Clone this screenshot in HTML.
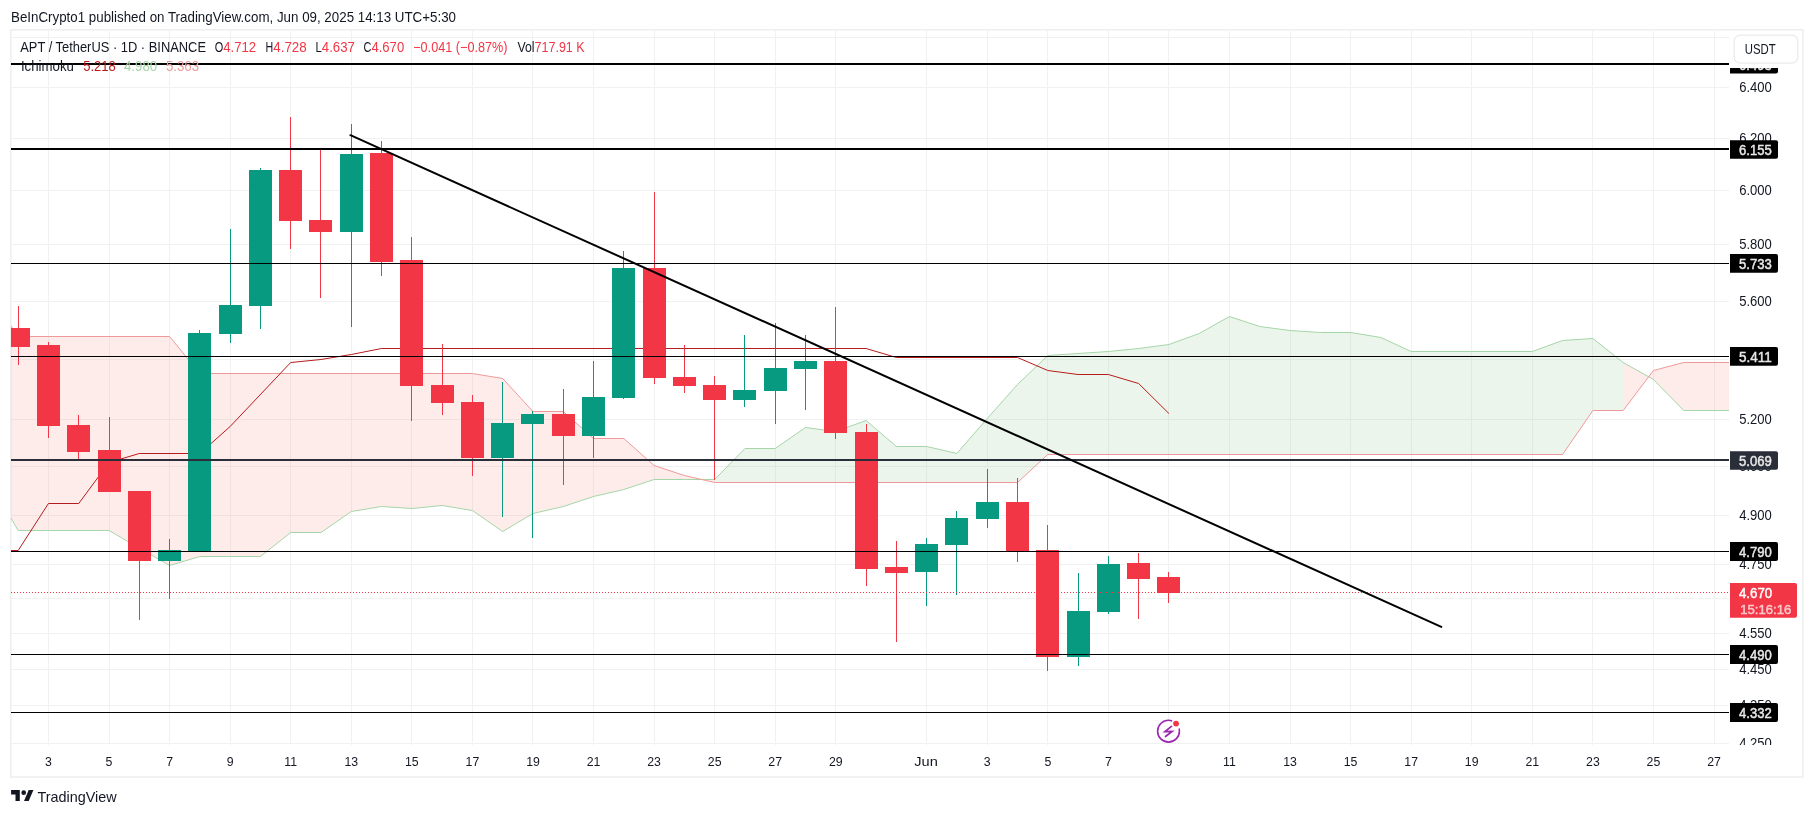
<!DOCTYPE html><html><head><meta charset="utf-8"><style>html,body{margin:0;padding:0;background:#fff;width:1814px;height:816px;overflow:hidden}svg{display:block;will-change:transform}text{font-family:"Liberation Sans",sans-serif}</style></head><body>
<svg width="1814" height="816" viewBox="0 0 1814 816">
<rect x="0" y="0" width="1814" height="816" fill="#fff"/>
<text x="11" y="22" font-size="14.3" fill="#131722" textLength="445" lengthAdjust="spacingAndGlyphs">BeInCrypto1 published on TradingView.com, Jun 09, 2025 14:13 UTC+5:30</text>
<rect x="10.75" y="29.75" width="1792.25" height="747.25" fill="none" stroke="#eeeeee" stroke-width="1.5"/>
<defs><clipPath id="plot"><rect x="11" y="31" width="1718" height="714"/></clipPath><clipPath id="axis"><rect x="1729" y="31" width="73" height="714"/></clipPath></defs>
<g clip-path="url(#plot)">
<g shape-rendering="crispEdges" stroke="#f0f2f2" stroke-width="1">
<line x1="11" y1="37.5" x2="1729" y2="37.5"/>
<line x1="11" y1="87.5" x2="1729" y2="87.5"/>
<line x1="11" y1="138.5" x2="1729" y2="138.5"/>
<line x1="11" y1="190.5" x2="1729" y2="190.5"/>
<line x1="11" y1="244.5" x2="1729" y2="244.5"/>
<line x1="11" y1="301.5" x2="1729" y2="301.5"/>
<line x1="11" y1="359.5" x2="1729" y2="359.5"/>
<line x1="11" y1="419.5" x2="1729" y2="419.5"/>
<line x1="11" y1="466.5" x2="1729" y2="466.5"/>
<line x1="11" y1="515.5" x2="1729" y2="515.5"/>
<line x1="11" y1="564.5" x2="1729" y2="564.5"/>
<line x1="11" y1="598.5" x2="1729" y2="598.5"/>
<line x1="11" y1="633.5" x2="1729" y2="633.5"/>
<line x1="11" y1="669.5" x2="1729" y2="669.5"/>
<line x1="11" y1="705.5" x2="1729" y2="705.5"/>
<line x1="11" y1="743.5" x2="1729" y2="743.5"/>
<line x1="48.5" y1="31" x2="48.5" y2="745"/>
<line x1="109.5" y1="31" x2="109.5" y2="745"/>
<line x1="169.5" y1="31" x2="169.5" y2="745"/>
<line x1="230.5" y1="31" x2="230.5" y2="745"/>
<line x1="290.5" y1="31" x2="290.5" y2="745"/>
<line x1="351.5" y1="31" x2="351.5" y2="745"/>
<line x1="411.5" y1="31" x2="411.5" y2="745"/>
<line x1="472.5" y1="31" x2="472.5" y2="745"/>
<line x1="532.5" y1="31" x2="532.5" y2="745"/>
<line x1="593.5" y1="31" x2="593.5" y2="745"/>
<line x1="654.5" y1="31" x2="654.5" y2="745"/>
<line x1="714.5" y1="31" x2="714.5" y2="745"/>
<line x1="775.5" y1="31" x2="775.5" y2="745"/>
<line x1="835.5" y1="31" x2="835.5" y2="745"/>
<line x1="926.5" y1="31" x2="926.5" y2="745"/>
<line x1="987.5" y1="31" x2="987.5" y2="745"/>
<line x1="1047.5" y1="31" x2="1047.5" y2="745"/>
<line x1="1108.5" y1="31" x2="1108.5" y2="745"/>
<line x1="1168.5" y1="31" x2="1168.5" y2="745"/>
<line x1="1229.5" y1="31" x2="1229.5" y2="745"/>
<line x1="1290.5" y1="31" x2="1290.5" y2="745"/>
<line x1="1350.5" y1="31" x2="1350.5" y2="745"/>
<line x1="1411.5" y1="31" x2="1411.5" y2="745"/>
<line x1="1471.5" y1="31" x2="1471.5" y2="745"/>
<line x1="1532.5" y1="31" x2="1532.5" y2="745"/>
<line x1="1592.5" y1="31" x2="1592.5" y2="745"/>
<line x1="1653.5" y1="31" x2="1653.5" y2="745"/>
<line x1="1714.5" y1="31" x2="1714.5" y2="745"/>
</g>
<polygon points="10.00,516.50 18.16,530.50 109.01,530.50 169.57,565.50 199.86,556.50 260.42,556.50 290.70,532.50 320.99,532.50 351.27,511.50 381.55,506.50 411.84,508.50 442.12,505.50 472.40,510.50 502.69,531.50 532.97,513.50 563.25,506.50 593.53,496.50 623.82,489.50 654.10,479.50 684.38,479.50 714.67,479.50 714.67,482.50 684.38,475.50 654.10,465.50 623.82,438.50 593.53,438.50 563.25,411.50 532.97,411.50 502.69,378.50 472.40,373.50 442.12,373.50 411.84,373.50 381.55,373.50 351.27,373.50 320.99,373.50 290.70,373.50 260.42,373.50 199.86,373.50 169.57,336.50 109.01,336.50 18.16,336.50 10.00,324.50" fill="rgba(244,67,54,0.1)"/>
<polygon points="714.67,479.50 744.95,448.50 775.23,448.50 805.52,427.50 835.80,431.50 866.08,420.50 896.36,446.50 926.65,446.50 956.93,453.50 987.21,418.50 1017.50,384.50 1047.78,355.50 1078.06,353.50 1108.35,351.50 1138.63,348.50 1168.91,344.50 1199.19,333.50 1229.48,316.50 1259.76,326.50 1290.04,330.50 1320.33,332.50 1350.61,332.50 1380.89,337.50 1411.18,351.50 1532.31,351.50 1562.59,340.50 1592.87,338.50 1623.16,362.50 1623.16,410.50 1592.87,410.50 1562.59,454.50 1532.31,454.50 1411.18,454.50 1380.89,454.50 1350.61,454.50 1320.33,454.50 1290.04,454.50 1259.76,454.50 1229.48,454.50 1199.19,454.50 1168.91,454.50 1138.63,454.50 1108.35,454.50 1078.06,454.50 1047.78,454.50 1017.50,482.50 987.21,482.50 956.93,482.50 926.65,482.50 896.36,482.50 866.08,482.50 835.80,482.50 805.52,482.50 775.23,482.50 744.95,482.50 714.67,482.50" fill="rgba(67,160,71,0.1)"/>
<polygon points="1623.16,362.50 1653.44,379.50 1683.72,410.50 1730.00,410.50 1730.00,362.50 1683.72,362.50 1653.44,370.50 1623.16,410.50" fill="rgba(244,67,54,0.1)"/>
<polyline points="10.00,516.50 18.16,530.50 109.01,530.50 169.57,565.50 199.86,556.50 260.42,556.50 290.70,532.50 320.99,532.50 351.27,511.50 381.55,506.50 411.84,508.50 442.12,505.50 472.40,510.50 502.69,531.50 532.97,513.50 563.25,506.50 593.53,496.50 623.82,489.50 654.10,479.50 684.38,479.50 714.67,479.50 744.95,448.50 775.23,448.50 805.52,427.50 835.80,431.50 866.08,420.50 896.36,446.50 926.65,446.50 956.93,453.50 987.21,418.50 1017.50,384.50 1047.78,355.50 1078.06,353.50 1108.35,351.50 1138.63,348.50 1168.91,344.50 1199.19,333.50 1229.48,316.50 1259.76,326.50 1290.04,330.50 1320.33,332.50 1350.61,332.50 1380.89,337.50 1411.18,351.50 1532.31,351.50 1562.59,340.50 1592.87,338.50 1623.16,362.50 1653.44,379.50 1683.72,410.50 1730.00,410.50" fill="none" stroke="#A5D6A7" stroke-width="1"/>
<polyline points="10.00,324.50 18.16,336.50 169.57,336.50 199.86,373.50 472.40,373.50 502.69,378.50 532.97,411.50 563.25,411.50 593.53,438.50 623.82,438.50 654.10,465.50 684.38,475.50 714.67,482.50 1017.50,482.50 1047.78,454.50 1562.59,454.50 1592.87,410.50 1623.16,410.50 1653.44,370.50 1683.72,362.50 1730.00,362.50" fill="none" stroke="#EF9A9A" stroke-width="1"/>
<polyline points="10.00,550.50 18.16,550.50 48.44,503.50 78.72,503.50 109.01,462.50 139.29,453.50 199.86,453.50 230.14,426.50 290.70,362.50 320.99,359.50 351.27,354.50 381.55,348.50 866.08,348.50 896.36,357.50 1017.50,357.50 1047.78,370.50 1078.06,374.50 1108.35,374.50 1138.63,383.50 1168.91,413.50" fill="none" stroke="#B71C1C" stroke-width="1"/>
<g shape-rendering="crispEdges">
<rect x="18.0" y="305.9" width="1" height="58.8" fill="#F23645"/>
<rect x="7.0" y="328.0" width="23" height="18.7" fill="#F23645"/>
<rect x="48.0" y="342.0" width="1" height="95.5" fill="#F23645"/>
<rect x="37.0" y="345.0" width="23" height="80.9" fill="#F23645"/>
<rect x="78.0" y="414.6" width="1" height="44.4" fill="#F23645"/>
<rect x="67.0" y="424.8" width="23" height="26.7" fill="#F23645"/>
<rect x="109.0" y="417.0" width="1" height="74.5" fill="#F23645"/>
<rect x="98.0" y="449.9" width="23" height="41.6" fill="#F23645"/>
<rect x="139.0" y="490.7" width="1" height="129.4" fill="#F23645"/>
<rect x="128.0" y="490.7" width="23" height="69.9" fill="#F23645"/>
<rect x="169.0" y="538.6" width="1" height="60.0" fill="#089981"/>
<rect x="158.0" y="549.9" width="23" height="10.7" fill="#089981"/>
<rect x="199.0" y="330.2" width="1" height="221.0" fill="#089981"/>
<rect x="188.0" y="333.3" width="23" height="217.9" fill="#089981"/>
<rect x="230.0" y="228.8" width="1" height="114.1" fill="#089981"/>
<rect x="219.0" y="305.0" width="23" height="28.6" fill="#089981"/>
<rect x="260.0" y="168.2" width="1" height="160.3" fill="#089981"/>
<rect x="249.0" y="170.0" width="23" height="135.9" fill="#089981"/>
<rect x="290.0" y="117.0" width="1" height="132.4" fill="#F23645"/>
<rect x="279.0" y="170.0" width="23" height="50.6" fill="#F23645"/>
<rect x="320.0" y="150.0" width="1" height="147.6" fill="#F23645"/>
<rect x="309.0" y="220.0" width="23" height="11.8" fill="#F23645"/>
<rect x="351.0" y="124.0" width="1" height="202.5" fill="#089981"/>
<rect x="340.0" y="154.1" width="23" height="77.7" fill="#089981"/>
<rect x="381.0" y="141.0" width="1" height="134.9" fill="#F23645"/>
<rect x="370.0" y="153.0" width="23" height="108.5" fill="#F23645"/>
<rect x="411.0" y="236.5" width="1" height="184.3" fill="#F23645"/>
<rect x="400.0" y="260.4" width="23" height="125.1" fill="#F23645"/>
<rect x="442.0" y="343.9" width="1" height="71.0" fill="#F23645"/>
<rect x="431.0" y="384.7" width="23" height="18.0" fill="#F23645"/>
<rect x="472.0" y="394.9" width="1" height="80.8" fill="#F23645"/>
<rect x="461.0" y="401.6" width="23" height="56.0" fill="#F23645"/>
<rect x="502.0" y="381.6" width="1" height="135.7" fill="#089981"/>
<rect x="491.0" y="422.7" width="23" height="34.9" fill="#089981"/>
<rect x="532.0" y="411.4" width="1" height="126.2" fill="#089981"/>
<rect x="521.0" y="413.7" width="23" height="10.2" fill="#089981"/>
<rect x="563.0" y="388.6" width="1" height="96.4" fill="#F23645"/>
<rect x="552.0" y="413.7" width="23" height="22.0" fill="#F23645"/>
<rect x="593.0" y="361.2" width="1" height="96.4" fill="#089981"/>
<rect x="582.0" y="396.9" width="23" height="38.8" fill="#089981"/>
<rect x="623.0" y="250.6" width="1" height="148.2" fill="#089981"/>
<rect x="612.0" y="267.8" width="23" height="129.8" fill="#089981"/>
<rect x="654.0" y="191.8" width="1" height="192.2" fill="#F23645"/>
<rect x="643.0" y="267.8" width="23" height="109.8" fill="#F23645"/>
<rect x="684.0" y="344.7" width="1" height="48.3" fill="#F23645"/>
<rect x="673.0" y="376.9" width="23" height="8.6" fill="#F23645"/>
<rect x="714.0" y="376.0" width="1" height="104.0" fill="#F23645"/>
<rect x="703.0" y="384.7" width="23" height="14.9" fill="#F23645"/>
<rect x="744.0" y="334.9" width="1" height="71.8" fill="#089981"/>
<rect x="733.0" y="389.8" width="23" height="9.8" fill="#089981"/>
<rect x="775.0" y="323.0" width="1" height="101.0" fill="#089981"/>
<rect x="764.0" y="367.8" width="23" height="22.8" fill="#089981"/>
<rect x="805.0" y="334.9" width="1" height="74.9" fill="#089981"/>
<rect x="794.0" y="360.8" width="23" height="7.8" fill="#089981"/>
<rect x="835.0" y="306.7" width="1" height="132.1" fill="#F23645"/>
<rect x="824.0" y="360.8" width="23" height="72.2" fill="#F23645"/>
<rect x="866.0" y="423.9" width="1" height="162.3" fill="#F23645"/>
<rect x="855.0" y="431.8" width="23" height="137.0" fill="#F23645"/>
<rect x="896.0" y="540.8" width="1" height="101.4" fill="#F23645"/>
<rect x="885.0" y="566.6" width="23" height="6.0" fill="#F23645"/>
<rect x="926.0" y="537.6" width="1" height="68.1" fill="#089981"/>
<rect x="915.0" y="544.0" width="23" height="27.7" fill="#089981"/>
<rect x="956.0" y="510.8" width="1" height="84.1" fill="#089981"/>
<rect x="945.0" y="517.8" width="23" height="27.1" fill="#089981"/>
<rect x="987.0" y="468.8" width="1" height="59.2" fill="#089981"/>
<rect x="976.0" y="501.9" width="23" height="16.9" fill="#089981"/>
<rect x="1017.0" y="478.1" width="1" height="83.7" fill="#F23645"/>
<rect x="1006.0" y="502.0" width="23" height="49.0" fill="#F23645"/>
<rect x="1047.0" y="525.0" width="1" height="145.7" fill="#F23645"/>
<rect x="1036.0" y="550.0" width="23" height="106.7" fill="#F23645"/>
<rect x="1078.0" y="573.0" width="1" height="93.1" fill="#089981"/>
<rect x="1067.0" y="610.9" width="23" height="45.8" fill="#089981"/>
<rect x="1108.0" y="556.0" width="1" height="57.8" fill="#089981"/>
<rect x="1097.0" y="564.0" width="23" height="47.7" fill="#089981"/>
<rect x="1138.0" y="553.0" width="1" height="66.0" fill="#F23645"/>
<rect x="1127.0" y="562.8" width="23" height="16.0" fill="#F23645"/>
<rect x="1168.0" y="572.0" width="1" height="31.0" fill="#F23645"/>
<rect x="1157.0" y="576.9" width="23" height="15.8" fill="#F23645"/>
</g>
<line x1="11" y1="592.5" x2="1729" y2="592.5" stroke="#F23645" stroke-width="1" stroke-dasharray="1 2" shape-rendering="crispEdges"/>
<g shape-rendering="crispEdges">
<rect x="11" y="63" width="1718" height="2" fill="#000"/>
<rect x="11" y="148" width="1718" height="2" fill="#000"/>
<rect x="11" y="263" width="1718" height="1" fill="#000"/>
<rect x="11" y="356" width="1718" height="1" fill="#000"/>
<rect x="11" y="459" width="1718" height="2" fill="#2A2E39"/>
<rect x="11" y="551" width="1718" height="1" fill="#000"/>
<rect x="11" y="654" width="1718" height="1" fill="#000"/>
<rect x="11" y="712" width="1718" height="1" fill="#000"/>
</g>
<line x1="350.4" y1="135.2" x2="1441.3" y2="626.9" stroke="#000" stroke-width="2" stroke-linecap="round"/>
<g transform="translate(1168.5,731.2)"><circle r="10.9" fill="#fff" stroke="#9C27B0" stroke-width="1.6" stroke-dasharray="54.79 10.46 68.49"/><path d="M2.9,-4.9 L-3.6,0.4 L3.6,0.2 L-3.0,5.3" fill="none" stroke="#9C27B0" stroke-width="1.7" stroke-linejoin="miter" stroke-miterlimit="8" stroke-linecap="round"/><circle cx="7.56" cy="-7.6" r="2.9" fill="#F23645"/></g>
</g>
<text x="20.25" y="51.9" font-size="14" fill="#131722" textLength="185.75" lengthAdjust="spacingAndGlyphs">APT / TetherUS · 1D · BINANCE</text>
<text x="214.7" y="51.9" font-size="14" fill="#131722" textLength="8.5" lengthAdjust="spacingAndGlyphs">O</text>
<text x="223.2" y="51.9" font-size="14" fill="#F23645" textLength="33.0" lengthAdjust="spacingAndGlyphs">4.712</text>
<text x="265.6" y="51.9" font-size="14" fill="#131722" textLength="7.7" lengthAdjust="spacingAndGlyphs">H</text>
<text x="273.3" y="51.9" font-size="14" fill="#F23645" textLength="33.4" lengthAdjust="spacingAndGlyphs">4.728</text>
<text x="315.5" y="51.9" font-size="14" fill="#131722" textLength="6.3" lengthAdjust="spacingAndGlyphs">L</text>
<text x="321.8" y="51.9" font-size="14" fill="#F23645" textLength="33.1" lengthAdjust="spacingAndGlyphs">4.637</text>
<text x="363.5" y="51.9" font-size="14" fill="#131722" textLength="7.9" lengthAdjust="spacingAndGlyphs">C</text>
<text x="371.4" y="51.9" font-size="14" fill="#F23645" textLength="32.8" lengthAdjust="spacingAndGlyphs">4.670</text>
<text x="413.2" y="51.9" font-size="14" fill="#F23645" textLength="94.3" lengthAdjust="spacingAndGlyphs">−0.041 (−0.87%)</text>
<text x="517.4" y="51.9" font-size="14" fill="#131722" textLength="17.1" lengthAdjust="spacingAndGlyphs">Vol</text>
<text x="534.5" y="51.9" font-size="14" fill="#F23645" textLength="50.2" lengthAdjust="spacingAndGlyphs">717.91 K</text>
<text x="20.9" y="70.7" font-size="14" fill="#131722" textLength="53.1" lengthAdjust="spacingAndGlyphs">Ichimoku</text>
<text x="83.2" y="70.7" font-size="14" fill="#B71C1C" textLength="32.6" lengthAdjust="spacingAndGlyphs">5.218</text>
<text x="124.0" y="70.7" font-size="14" fill="#A5D6A7" textLength="33.1" lengthAdjust="spacingAndGlyphs">4.980</text>
<text x="165.9" y="70.7" font-size="14" fill="#EF9A9A" textLength="33.1" lengthAdjust="spacingAndGlyphs">5.363</text>
<g clip-path="url(#axis)">
<g shape-rendering="crispEdges" stroke="#f0f3fa">
</g>
<text x="1739.2" y="91.9" font-size="14" fill="#131722" textLength="32.7" lengthAdjust="spacingAndGlyphs">6.400</text>
<text x="1739.2" y="142.9" font-size="14" fill="#131722" textLength="32.7" lengthAdjust="spacingAndGlyphs">6.200</text>
<text x="1739.2" y="195.0" font-size="14" fill="#131722" textLength="32.7" lengthAdjust="spacingAndGlyphs">6.000</text>
<text x="1739.2" y="249.0" font-size="14" fill="#131722" textLength="32.7" lengthAdjust="spacingAndGlyphs">5.800</text>
<text x="1739.2" y="306.1" font-size="14" fill="#131722" textLength="32.7" lengthAdjust="spacingAndGlyphs">5.600</text>
<text x="1739.2" y="364.0" font-size="14" fill="#131722" textLength="32.7" lengthAdjust="spacingAndGlyphs">5.400</text>
<text x="1739.2" y="423.8" font-size="14" fill="#131722" textLength="32.7" lengthAdjust="spacingAndGlyphs">5.200</text>
<text x="1739.2" y="470.9" font-size="14" fill="#131722" textLength="32.7" lengthAdjust="spacingAndGlyphs">5.050</text>
<text x="1739.2" y="519.8" font-size="14" fill="#131722" textLength="32.7" lengthAdjust="spacingAndGlyphs">4.900</text>
<text x="1739.2" y="568.8" font-size="14" fill="#131722" textLength="32.7" lengthAdjust="spacingAndGlyphs">4.750</text>
<text x="1739.2" y="602.7" font-size="14" fill="#131722" textLength="32.7" lengthAdjust="spacingAndGlyphs">4.650</text>
<text x="1739.2" y="638.0" font-size="14" fill="#131722" textLength="32.7" lengthAdjust="spacingAndGlyphs">4.550</text>
<text x="1739.2" y="674.0" font-size="14" fill="#131722" textLength="32.7" lengthAdjust="spacingAndGlyphs">4.450</text>
<text x="1739.2" y="710.0" font-size="14" fill="#131722" textLength="32.7" lengthAdjust="spacingAndGlyphs">4.350</text>
<text x="1739.2" y="748.0" font-size="14" fill="#131722" textLength="32.7" lengthAdjust="spacingAndGlyphs">4.250</text>
<path d="M1730,54.50 H1776 Q1778,54.50 1778,56.50 V71.50 Q1778,73.50 1776,73.50 H1730 Z" fill="#000"/>
<text x="1739" y="69.7" font-size="14" fill="#e8e8e8" stroke="#e8e8e8" stroke-width="0.45" textLength="32.75" lengthAdjust="spacingAndGlyphs">6.493</text>
<path d="M1730,140.30 H1776 Q1778,140.30 1778,142.30 V156.70 Q1778,158.70 1776,158.70 H1730 Z" fill="#000"/>
<text x="1739" y="155.2" font-size="14" fill="#e8e8e8" stroke="#e8e8e8" stroke-width="0.45" textLength="32.75" lengthAdjust="spacingAndGlyphs">6.155</text>
<path d="M1730,254.00 H1776 Q1778,254.00 1778,256.00 V270.80 Q1778,272.80 1776,272.80 H1730 Z" fill="#000"/>
<text x="1739" y="269.1" font-size="14" fill="#e8e8e8" stroke="#e8e8e8" stroke-width="0.45" textLength="32.75" lengthAdjust="spacingAndGlyphs">5.733</text>
<path d="M1730,347.10 H1776 Q1778,347.10 1778,349.10 V363.80 Q1778,365.80 1776,365.80 H1730 Z" fill="#000"/>
<text x="1739" y="362.2" font-size="14" fill="#e8e8e8" stroke="#e8e8e8" stroke-width="0.45" textLength="32.75" lengthAdjust="spacingAndGlyphs">5.411</text>
<path d="M1730,451.30 H1776 Q1778,451.30 1778,453.30 V467.70 Q1778,469.70 1776,469.70 H1730 Z" fill="#2A2E39"/>
<text x="1739" y="466.2" font-size="14" fill="#e8e8e8" stroke="#e8e8e8" stroke-width="0.45" textLength="32.75" lengthAdjust="spacingAndGlyphs">5.069</text>
<path d="M1730,542.00 H1776 Q1778,542.00 1778,544.00 V559.00 Q1778,561.00 1776,561.00 H1730 Z" fill="#000"/>
<text x="1739" y="557.2" font-size="14" fill="#e8e8e8" stroke="#e8e8e8" stroke-width="0.45" textLength="32.75" lengthAdjust="spacingAndGlyphs">4.790</text>
<path d="M1730,645.00 H1776 Q1778,645.00 1778,647.00 V661.90 Q1778,663.90 1776,663.90 H1730 Z" fill="#000"/>
<text x="1739" y="660.2" font-size="14" fill="#e8e8e8" stroke="#e8e8e8" stroke-width="0.45" textLength="32.75" lengthAdjust="spacingAndGlyphs">4.490</text>
<path d="M1730,703.00 H1776 Q1778,703.00 1778,705.00 V719.90 Q1778,721.90 1776,721.90 H1730 Z" fill="#000"/>
<text x="1739" y="718.2" font-size="14" fill="#e8e8e8" stroke="#e8e8e8" stroke-width="0.45" textLength="32.75" lengthAdjust="spacingAndGlyphs">4.332</text>
<path d="M1730,583 H1795 Q1797,583 1797,585 V615.8 Q1797,617.8 1795,617.8 H1730 Z" fill="#F23645"/>
<text x="1739" y="598.1" font-size="14" fill="#fff" stroke="#fff" stroke-width="0.45" textLength="33.1" lengthAdjust="spacingAndGlyphs">4.670</text>
<text x="1740.2" y="613.8" font-size="13.5" fill="#fff" stroke="#fff" stroke-width="0.45" opacity="0.72" textLength="51.2" lengthAdjust="spacingAndGlyphs">15:16:16</text>
</g>
<rect x="1729" y="31" width="73" height="37" fill="#fff"/>
<rect x="1734.2" y="35.1" width="63.6" height="28" rx="6" fill="#fff" stroke="#ebebeb" stroke-width="1.3"/>
<text x="1744.7" y="54" font-size="14" fill="#131722" textLength="30.9" lengthAdjust="spacingAndGlyphs">USDT</text>
<text x="48.4" y="765.9" font-size="12.3" fill="#131722" text-anchor="middle">3</text>
<text x="109.0" y="765.9" font-size="12.3" fill="#131722" text-anchor="middle">5</text>
<text x="169.6" y="765.9" font-size="12.3" fill="#131722" text-anchor="middle">7</text>
<text x="230.1" y="765.9" font-size="12.3" fill="#131722" text-anchor="middle">9</text>
<text x="290.7" y="765.9" font-size="12.3" fill="#131722" text-anchor="middle">11</text>
<text x="351.3" y="765.9" font-size="12.3" fill="#131722" text-anchor="middle">13</text>
<text x="411.8" y="765.9" font-size="12.3" fill="#131722" text-anchor="middle">15</text>
<text x="472.4" y="765.9" font-size="12.3" fill="#131722" text-anchor="middle">17</text>
<text x="533.0" y="765.9" font-size="12.3" fill="#131722" text-anchor="middle">19</text>
<text x="593.5" y="765.9" font-size="12.3" fill="#131722" text-anchor="middle">21</text>
<text x="654.1" y="765.9" font-size="12.3" fill="#131722" text-anchor="middle">23</text>
<text x="714.7" y="765.9" font-size="12.3" fill="#131722" text-anchor="middle">25</text>
<text x="775.2" y="765.9" font-size="12.3" fill="#131722" text-anchor="middle">27</text>
<text x="835.8" y="765.9" font-size="12.3" fill="#131722" text-anchor="middle">29</text>
<text x="914.3" y="765.9" font-size="12.3" fill="#131722" textLength="23.5" lengthAdjust="spacingAndGlyphs">Jun</text>
<text x="987.2" y="765.9" font-size="12.3" fill="#131722" text-anchor="middle">3</text>
<text x="1047.8" y="765.9" font-size="12.3" fill="#131722" text-anchor="middle">5</text>
<text x="1108.3" y="765.9" font-size="12.3" fill="#131722" text-anchor="middle">7</text>
<text x="1168.9" y="765.9" font-size="12.3" fill="#131722" text-anchor="middle">9</text>
<text x="1229.5" y="765.9" font-size="12.3" fill="#131722" text-anchor="middle">11</text>
<text x="1290.0" y="765.9" font-size="12.3" fill="#131722" text-anchor="middle">13</text>
<text x="1350.6" y="765.9" font-size="12.3" fill="#131722" text-anchor="middle">15</text>
<text x="1411.2" y="765.9" font-size="12.3" fill="#131722" text-anchor="middle">17</text>
<text x="1471.7" y="765.9" font-size="12.3" fill="#131722" text-anchor="middle">19</text>
<text x="1532.3" y="765.9" font-size="12.3" fill="#131722" text-anchor="middle">21</text>
<text x="1592.9" y="765.9" font-size="12.3" fill="#131722" text-anchor="middle">23</text>
<text x="1653.4" y="765.9" font-size="12.3" fill="#131722" text-anchor="middle">25</text>
<text x="1714.0" y="765.9" font-size="12.3" fill="#131722" text-anchor="middle">27</text>
<g fill="#131722"><path d="M11.1,790 H19.8 V801 H15.5 V794.4 H11.1 Z"/><circle cx="23.7" cy="792.7" r="2.35"/><path d="M28.7,790 H33.4 L28.7,801 H24 Z"/></g>
<text x="37.4" y="801.6" font-size="14.6" fill="#131722" textLength="79.2" lengthAdjust="spacingAndGlyphs">TradingView</text>
</svg></body></html>
